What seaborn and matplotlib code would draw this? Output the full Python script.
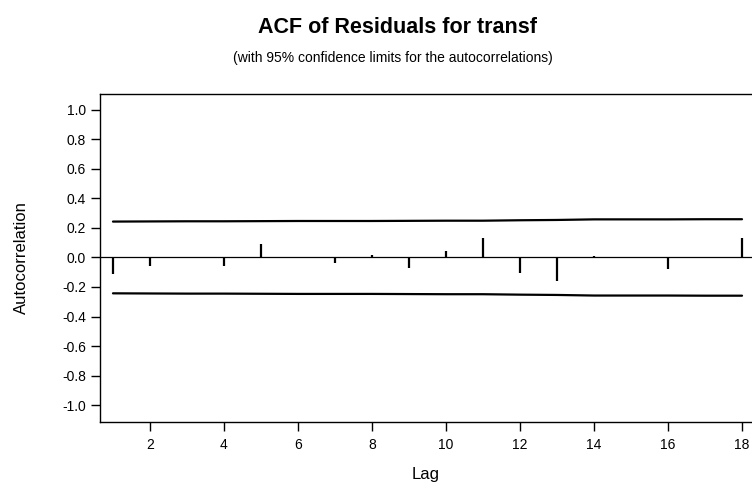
import numpy as np
import pandas as pd
import matplotlib
matplotlib.use('Agg')
import matplotlib.pyplot as plt
import seaborn as sns

# --- Dados ---
lags = list(range(1, 19))
acf_vals = [-0.11, -0.06, 0.0, -0.055, 0.088, 0.0, -0.04, 0.015, -0.07,
            0.047, 0.13, -0.106, -0.158, 0.01, 0.0, -0.077, 0.0, 0.13]
ci_upper = [0.243, 0.244, 0.245, 0.245, 0.246, 0.247, 0.247, 0.247, 0.248,
            0.249, 0.249, 0.252, 0.254, 0.258, 0.258, 0.258, 0.259, 0.259]
ci_lower = [-v for v in ci_upper]
y_ticks = [1.0, 0.8, 0.6, 0.4, 0.2, 0.0, -0.2, -0.4, -0.6, -0.8, -1.0]
x_ticks = [2, 4, 6, 8, 10, 12, 14, 16, 18]

sns.set_style('ticks')
plt.rcParams['font.family'] = ['Liberation Sans', 'DejaVu Sans']
plt.rcParams['axes.unicode_minus'] = False
plt.rcParams['text.color'] = 'black'
plt.rcParams['axes.labelcolor'] = 'black'

df = pd.DataFrame({'lag': lags, 'acf': acf_vals, 'sup': ci_upper, 'inf': ci_lower})

fig = plt.figure(figsize=(7.52, 4.84), dpi=100)
ax = fig.add_axes([0.133, 0.128, 0.867, 0.678])

# limites de confiança
sns.lineplot(data=df, x='lag', y='sup', color='black', linewidth=1.6, ax=ax)
sns.lineplot(data=df, x='lag', y='inf', color='black', linewidth=1.6, ax=ax)
ax.axhline(0, color='black', linewidth=0.9)
# barras da ACF
ax.vlines(df['lag'], 0, df['acf'], color='black', linewidth=1.6)

ax.set_xlim(0.65, 18.27)
ax.set_ylim(-1.115, 1.108)
ax.set_xticks(x_ticks)
ax.set_yticks(y_ticks)
ax.set_yticklabels([f'{v:.1f}' for v in y_ticks])
ax.tick_params(axis='both', direction='out', length=6.5, width=1, labelsize=10, colors='black')
ax.tick_params(axis='x', pad=5)
for s in ['left', 'bottom', 'top']:
    ax.spines[s].set_linewidth(1)
    ax.spines[s].set_color('black')
ax.spines['right'].set_visible(False)

ax.set_xlabel('Lag', fontsize=12, labelpad=11)
ax.set_ylabel('Autocorrelation', fontsize=12, labelpad=24)

fig.text(0.528, 0.944, 'ACF of Residuals for transf', ha='center', va='center',
         fontsize=15.5, fontweight='bold')
fig.text(0.522, 0.881, '(with 95% confidence limits for the autocorrelations)',
         ha='center', va='center', fontsize=10)

fig.savefig('out.png', dpi=100)
plt.close()
